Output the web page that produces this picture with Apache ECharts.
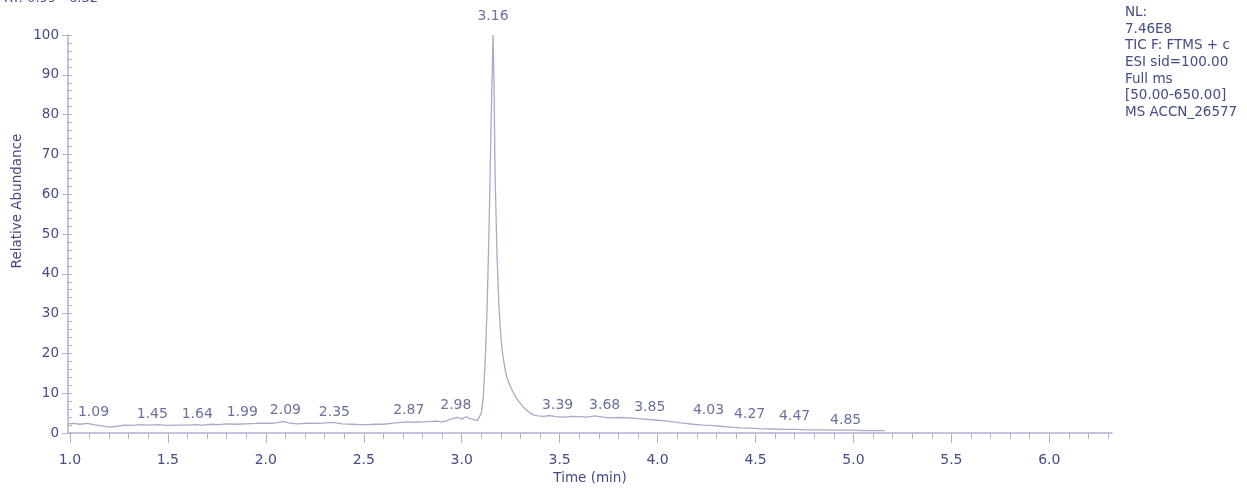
<!DOCTYPE html>
<html>
<head>
<meta charset="utf-8">
<script src="https://cdn.jsdelivr.net/npm/echarts@6/dist/echarts.min.js"></script>
<style>
  html, body { margin: 0; padding: 0; background: #fff; }
  #chart { width: 1247px; height: 488px; }
</style>
</head>
<body>
<div id="chart"></div>
<script>
// 色谱图数据 (TIC)
const times = [
  0.99, 1.02, 1.05, 1.09, 1.12, 1.16, 1.20, 1.24, 1.28, 1.32, 1.36, 1.40, 1.45, 1.50, 1.55, 1.60,
  1.64, 1.68, 1.72, 1.76, 1.80, 1.85, 1.90, 1.95, 1.99, 2.03, 2.06, 2.09, 2.12, 2.16, 2.20, 2.24,
  2.28, 2.32, 2.35, 2.39, 2.44, 2.48, 2.52, 2.56, 2.60, 2.64, 2.68, 2.72, 2.76, 2.80, 2.84, 2.87,
  2.90, 2.93, 2.95, 2.98, 3.00, 3.02, 3.04, 3.06, 3.08, 3.09, 3.10, 3.11, 3.12, 3.13, 3.14, 3.15,
  3.16, 3.165, 3.17, 3.18, 3.19, 3.20, 3.21, 3.22, 3.23, 3.25, 3.27, 3.29, 3.31, 3.33, 3.35, 3.37,
  3.39, 3.42, 3.45, 3.48, 3.52, 3.56, 3.60, 3.64, 3.68, 3.72, 3.76, 3.80, 3.85, 3.90, 3.95, 4.00,
  4.03, 4.08, 4.13, 4.18, 4.23, 4.27, 4.32, 4.37, 4.42, 4.47, 4.52, 4.58, 4.64, 4.70, 4.76, 4.80,
  4.85, 4.90, 4.95, 5.00, 5.05, 5.10, 5.16
]
const abundance = [
  2.3, 2.4, 2.2, 2.4, 2.1, 1.8, 1.5, 1.7, 2.0, 1.9, 2.1, 2.0, 2.1, 1.9, 2.0, 2.0,
  2.1, 2.0, 2.2, 2.1, 2.3, 2.2, 2.3, 2.4, 2.5, 2.4, 2.6, 2.9, 2.5, 2.3, 2.4, 2.5,
  2.4, 2.6, 2.6, 2.3, 2.2, 2.1, 2.1, 2.2, 2.2, 2.4, 2.6, 2.8, 2.7, 2.8, 2.9, 3.0,
  2.8, 3.2, 3.6, 3.9, 3.5, 4.1, 3.7, 3.4, 3.1, 3.3, 5.0, 9.0, 18, 32, 52, 78,
  100, 88, 66, 45, 32, 24, 19.5, 16.5, 14, 11.5, 9.5, 8.0, 6.8, 5.8, 5.0, 4.5,
  4.3, 4.2, 4.4, 4.1, 4.0, 4.2, 4.1, 4.0, 4.3, 4.0, 3.8, 3.9, 3.8, 3.6, 3.4, 3.2,
  3.1, 2.8, 2.5, 2.2, 2.0, 1.9, 1.7, 1.5, 1.3, 1.2, 1.1, 1.0, 0.9, 0.9, 0.8, 0.8,
  0.8, 0.7, 0.7, 0.7, 0.6, 0.6, 0.6
]

// 峰标注: 保留时间, 标注所在位置, 标注高度
const peakTimes = [1.09, 1.45, 1.64, 1.99, 2.09, 2.35, 2.87, 2.98, 3.16, 3.39, 3.68, 3.85, 4.03, 4.27, 4.47, 4.85]
const peakLabelAt = [1.12, 1.42, 1.65, 1.88, 2.10, 2.35, 2.73, 2.97, 3.16, 3.49, 3.73, 3.96, 4.26, 4.47, 4.70, 4.96]
const peakHeights = [2.3, 2.0, 2.0, 2.5, 3.0, 2.5, 3.0, 4.3, 100, 4.3, 4.3, 3.8, 3.0, 2.0, 1.5, 0.5]

// 刻度
const xMajorTicks = [1.0, 1.5, 2.0, 2.5, 3.0, 3.5, 4.0, 4.5, 5.0, 5.5, 6.0]
const xMinorTicks = []
for (let i = 10; i <= 63; i++) xMinorTicks.push(i / 10)
const yMinorTicks = []
for (let i = 0; i <= 100; i += 2) yMinorTicks.push(i)

const infoLines = ['NL:', '7.46E8', 'TIC F: FTMS + c', 'ESI sid=100.00', 'Full ms', '[50.00-650.00]', 'MS ACCN_26577']

const axisColor = '#aeb2d2'
const textColor = '#434c84'
const font = 'DejaVu Sans'

const chart = echarts.init(document.getElementById('chart'))

const option = {
  backgroundColor: '#fff',
  animation: false,
  textStyle: { fontFamily: font },
  grid: { left: 68, right: 135, top: 35, bottom: 55, outerBoundsMode: 'none', containLabel: false },
  xAxis: [
    {
      type: 'value',
      min: 0.99,
      max: 6.32,
      name: 'Time (min)',
      nameLocation: 'middle',
      nameGap: 38,
      nameTextStyle: { color: textColor, fontSize: 13.5, fontFamily: font },
      axisLine: { show: true, lineStyle: { color: axisColor, width: 1.5 } },
      axisTick: { show: true, customValues: xMinorTicks, length: 6, lineStyle: { color: axisColor } },
      axisLabel: {
        customValues: xMajorTicks,
        margin: 20,
        color: textColor,
        fontSize: 14,
        fontFamily: font,
        formatter: v => v.toFixed(1)
      },
      splitLine: { show: false }
    },
    {
      type: 'value',
      min: 0.99,
      max: 6.32,
      position: 'bottom',
      axisLine: { show: false },
      axisTick: { show: true, customValues: xMajorTicks, length: 10, lineStyle: { color: axisColor } },
      axisLabel: { show: false },
      splitLine: { show: false }
    }
  ],
  yAxis: [
    {
      type: 'value',
      min: 0,
      max: 100,
      interval: 10,
      axisLine: { show: true, lineStyle: { color: axisColor, width: 1.5 } },
      axisTick: { show: true, length: 6, lineStyle: { color: axisColor } },
      axisLabel: { color: textColor, fontSize: 13.5, fontFamily: font, margin: 9 },
      splitLine: { show: false }
    },
    {
      type: 'value',
      min: 0,
      max: 100,
      position: 'left',
      axisLine: { show: false },
      axisTick: { show: true, inside: true, customValues: yMinorTicks, length: 4, lineStyle: { color: axisColor } },
      axisLabel: { show: false },
      splitLine: { show: false }
    }
  ],
  series: [
    {
      name: 'TIC',
      type: 'line',
      data: times.map((t, i) => [t, abundance[i]]),
      showSymbol: false,
      lineStyle: { color: '#a9aac8', width: 1.3 },
      silent: true
    },
    {
      name: 'peaks',
      type: 'scatter',
      symbolSize: 0,
      clip: false,
      data: peakLabelAt.map((t, i) => ({
        value: [t, peakHeights[i]],
        name: peakTimes[i].toFixed(2),
        label: peakHeights[i] >= 100 ? { distance: 12 } : undefined
      })),
      label: {
        show: true,
        position: 'top',
        distance: 4,
        color: textColor,
        fontSize: 14,
        fontFamily: font,
        formatter: p => p.name
      },
      silent: true
    }
  ],
  graphic: [
    {
      type: 'text',
      x: 4,
      y: -8,
      style: { text: 'RT: 0.99 - 6.32', fill: textColor, font: '13px "DejaVu Sans"' }
    },
    {
      type: 'text',
      x: 17,
      y: 201,
      rotation: Math.PI / 2,
      style: {
        text: 'Relative Abundance',
        fill: textColor,
        font: '13.5px "DejaVu Sans"',
        align: 'center',
        verticalAlign: 'middle'
      }
    },
    {
      type: 'text',
      x: 1125,
      y: 4,
      style: {
        text: infoLines.join('\n'),
        fill: textColor,
        font: '13.5px "DejaVu Sans"',
        lineHeight: 16.7
      }
    }
  ]
}

chart.setOption(option)
</script>
</body>
</html>
